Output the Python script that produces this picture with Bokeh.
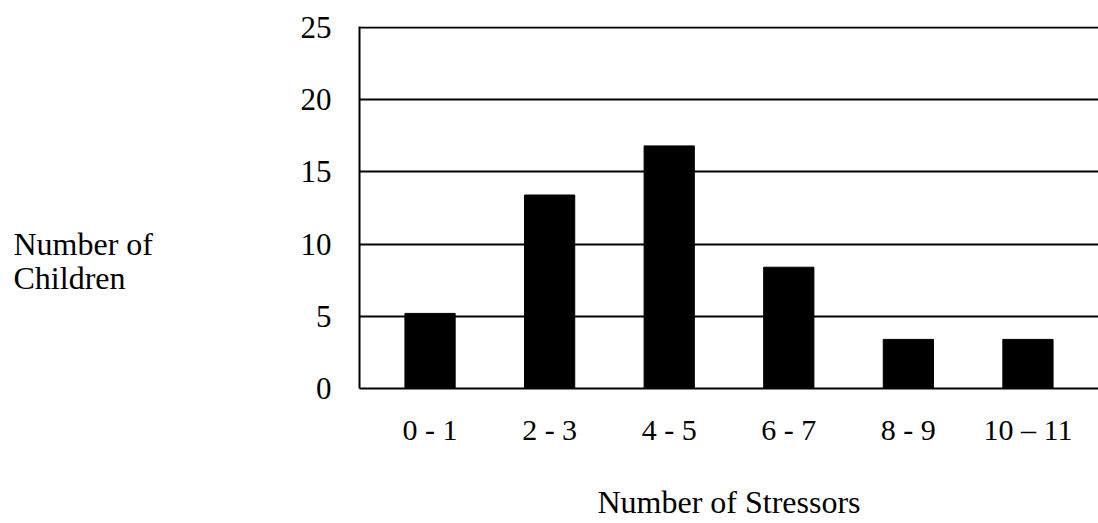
from bokeh.plotting import figure
from bokeh.layouts import row
from bokeh.models import FactorRange, Range1d, FixedTicker
from bokeh.core.properties import value
from bokeh.embed import file_html
from bokeh.resources import INLINE

categories = ["0 - 1", "2 - 3", "4 - 5", "6 - 7", "8 - 9", "10 \u2013 11"]
children = [5.2, 13.4, 16.8, 8.4, 3.4, 3.4]
y_ticks = [0, 5, 10, 15, 20, 25]
y_title_lines = ["Number of", "Children"]

FONT = "Liberation Serif"
H = 523
LEFT_W = 280
TOP, BOTTOM = 26, 135

y_range = Range1d(0, 25.07)

# main chart
p = figure(
    width=1098 - LEFT_W, height=H,
    x_range=FactorRange(factors=categories, range_padding=0.09, range_padding_units="absolute"),
    y_range=y_range,
    output_backend="svg", toolbar_location=None,
    min_border_left=359 - LEFT_W, min_border_right=0, min_border_top=TOP, min_border_bottom=BOTTOM,
)
p.outline_line_color = None
p.background_fill_color = "white"
p.border_fill_color = "white"

p.vbar(x=categories, top=children, width=0.42, color="black")

p.xgrid.grid_line_color = None
p.ygrid.ticker = FixedTicker(ticks=y_ticks)
p.ygrid.grid_line_color = "black"
p.ygrid.grid_line_width = 2

p.yaxis.ticker = FixedTicker(ticks=y_ticks)
p.yaxis.axis_line_color = "black"
p.yaxis.axis_line_width = 2
p.yaxis.major_tick_line_color = None
p.yaxis.minor_tick_line_color = None
p.yaxis.major_tick_out = 0
p.yaxis.major_tick_in = 0
p.yaxis.major_label_standoff = 28
p.yaxis.major_label_text_font = FONT
p.yaxis.major_label_text_font_size = "31px"
p.yaxis.major_label_text_color = "black"

p.xaxis.axis_line_color = "black"
p.xaxis.axis_line_width = 2
p.xaxis.major_tick_line_color = None
p.xaxis.minor_tick_line_color = None
p.xaxis.major_tick_out = 0
p.xaxis.major_tick_in = 0
p.xaxis.major_label_standoff = 24
p.xaxis.major_label_text_font = FONT
p.xaxis.major_label_text_font_size = "30px"
p.xaxis.major_label_text_color = "black"
p.xaxis.axis_label = "Number of Stressors"
p.xaxis.axis_label_text_font = FONT
p.xaxis.axis_label_text_font_style = "normal"
p.xaxis.axis_label_text_font_size = "32px"
p.xaxis.axis_label_text_color = "black"
p.xaxis.axis_label_standoff = 35

# left panel holding the horizontal y-axis title (shares the y scale)
t = figure(
    width=LEFT_W, height=H,
    x_range=Range1d(0, LEFT_W), y_range=y_range,
    output_backend="svg", toolbar_location=None,
    x_axis_location=None, y_axis_location=None,
    min_border_left=0, min_border_right=0, min_border_top=TOP, min_border_bottom=BOTTOM,
)
t.outline_line_color = None
t.xgrid.grid_line_color = None
t.ygrid.grid_line_color = None
t.background_fill_color = "white"
t.border_fill_color = "white"
t.text(x=[13, 13], y=[10.03, 7.67], text=y_title_lines,
       text_font=value(FONT), text_font_size=value("32px"), text_color="black",
       text_align="left", text_baseline="middle")

open("out.html", "w").write(file_html(row(t, p), INLINE))
